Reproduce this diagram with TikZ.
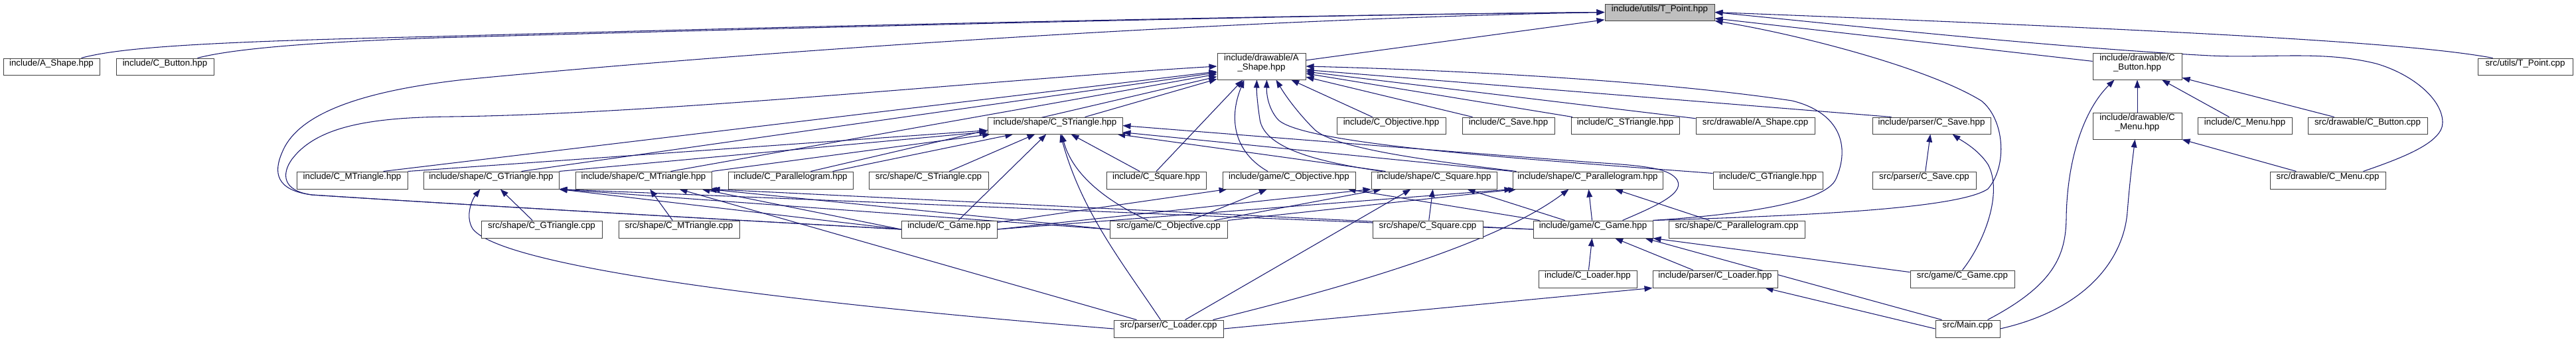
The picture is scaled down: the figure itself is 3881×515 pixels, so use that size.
\documentclass[tikz,border=0pt]{standalone}
\usepackage{fontspec}
\setmainfont{Liberation Sans}
\usetikzlibrary{fit,arrows.meta}
\definecolor{midnight}{HTML}{191970}
\definecolor{tpgray}{HTML}{BFBFBF}
\pgfdeclarelayer{bg}
\pgfsetlayers{bg,main}
\newcommand\dnode[7][]{\node[box,#1, fit={(#3,#4) (#5,#6)}] (#2) {#7};}
\begin{document}
\begin{tikzpicture}[x=0.75bp,y=-0.75bp,
  box/.style={draw=black!75, line width=0.75bp, fill=white, inner sep=0pt, align=center,
    font=\fontsize{10bp}{10.5bp}\selectfont},
  dep/.style={draw=midnight, line width=0.8bp, -{Triangle[length=9bp,width=6.5bp]}}]
\useasboundingbox (0,0) rectangle (3881,515);
% row 0/1
\dnode[fill=tpgray]{TP}{2418}{6}{2583}{31}{include/utils/T\_Point.hpp}
\dnode{AS}{5}{88}{150}{113}{include/A\_Shape.hpp}
\dnode{CB}{175}{88}{322}{113}{include/C\_Button.hpp}
\dnode{DAS}{1834}{80}{1967}{120}{include/drawable/A\\\_Shape.hpp}
\dnode{DCB}{3153}{80}{3287}{120}{include/drawable/C\\\_Button.hpp}
\dnode{TPC}{3733}{88}{3876}{113}{src/utils/T\_Point.cpp}
% row 2
\dnode{SST}{1488}{177}{1691}{202}{include/shape/C\_STriangle.hpp}
\dnode{COH}{2014}{177}{2178}{202}{include/C\_Objective.hpp}
\dnode{CSH}{2203}{177}{2342}{202}{include/C\_Save.hpp}
\dnode{CSTH}{2367}{177}{2530}{202}{include/C\_STriangle.hpp}
\dnode{DASC}{2555}{177}{2734}{202}{src/drawable/A\_Shape.cpp}
\dnode{PSH}{2821}{177}{2999}{202}{include/parser/C\_Save.hpp}
\dnode{DCM}{3153}{170}{3287}{210}{include/drawable/C\\\_Menu.hpp}
\dnode{CMH}{3311}{177}{3453}{202}{include/C\_Menu.hpp}
\dnode{DCBC}{3477}{177}{3657}{202}{src/drawable/C\_Button.cpp}
% row 3
\dnode{CMT}{447}{259}{614}{285}{include/C\_MTriangle.hpp}
\dnode{SGT}{638}{259}{842}{285}{include/shape/C\_GTriangle.hpp}
\dnode{SMT}{867}{259}{1072}{285}{include/shape/C\_MTriangle.hpp}
\dnode{CPH}{1097}{259}{1285}{285}{include/C\_Parallelogram.hpp}
\dnode{SSTC}{1309}{259}{1489}{285}{src/shape/C\_STriangle.cpp}
\dnode{CSQ}{1667}{259}{1817}{285}{include/C\_Square.hpp}
\dnode{GOH}{1842}{259}{2042}{285}{include/game/C\_Objective.hpp}
\dnode{SSQ}{2066}{259}{2255}{285}{include/shape/C\_Square.hpp}
\dnode{SPA}{2279}{259}{2505}{285}{include/shape/C\_Parallelogram.hpp}
\dnode{CGT}{2581}{259}{2746}{285}{include/C\_GTriangle.hpp}
\dnode{PSC}{2821}{259}{2977}{285}{src/parser/C\_Save.cpp}
\dnode{DCMC}{3420}{259}{3594}{285}{src/drawable/C\_Menu.cpp}
% row 4
\dnode{SGTC}{725}{333}{907}{359}{src/shape/C\_GTriangle.cpp}
\dnode{SMTC}{932}{333}{1114}{359}{src/shape/C\_MTriangle.cpp}
\dnode{CGH}{1358}{333}{1502}{359}{include/C\_Game.hpp}
\dnode{GOC}{1672}{333}{1849}{359}{src/game/C\_Objective.cpp}
\dnode{SSQC}{2068}{333}{2234}{359}{src/shape/C\_Square.cpp}
\dnode{GGH}{2310}{333}{2490}{359}{include/game/C\_Game.hpp}
\dnode{SPAC}{2514}{333}{2719}{359}{src/shape/C\_Parallelogram.cpp}
% row 5
\dnode{CLH}{2318}{408}{2466}{434}{include/C\_Loader.hpp}
\dnode{PLH}{2490}{408}{2678}{434}{include/parser/C\_Loader.hpp}
\dnode{GGC}{2878}{408}{3035}{434}{src/game/C\_Game.cpp}
% row 6
\dnode{PLC}{1678}{483}{1843}{509}{src/parser/C\_Loader.cpp}
\dnode{MAIN}{2916}{483}{3013}{509}{src/Main.cpp}

\begin{pgfonlayer}{bg}
% to T_Point.hpp
\draw[dep] ([shift={(-28,0)}]AS.north east) .. controls (180,72) and (300,63) .. (660,55) .. controls (1300,37) and (2000,22) .. (TP.west);
\draw[dep] ([shift={(-25,0)}]CB.north east) .. controls (350,74) and (460,64) .. (660,57) .. controls (1300,39) and (2000,22) .. (TP.west);
\draw[dep] (CGH.west) .. controls (1000,326) and (700,309) .. (470,294) .. controls (415,287) and (412,260) .. (425,230) .. controls (445,180) and (520,140) .. (700,120) .. controls (1200,72) and (1900,28) .. (TP.west);
\draw[dep] (DAS) -- (TP);
\draw[dep] (DCB) -- (TP);
\draw[dep] ([shift={(23,0)}]TPC.north west) .. controls (3650,68) and (3400,50) .. (TP.east);
\draw[dep] ([shift={(-34,0)}]DCMC.north east) .. controls (3620,238) and (3680,215) .. (3680,185) .. controls (3680,150) and (3635,112) .. (3580,96) .. controls (3500,76) and (3420,88) .. (3330,84) .. controls (3100,72) and (2800,40) .. (TP.east);
\draw[dep] (GGH.north east) .. controls (2700,326) and (2950,316) .. (2995,285) .. controls (3025,250) and (3020,180) .. (2985,152) .. controls (2900,100) and (2700,50) .. (TP.south east);
% to drawable/A_Shape.hpp
\draw[dep] (CGH.west) .. controls (1000,326) and (700,309) .. (470,294) .. controls (425,288) and (424,262) .. (440,240) .. controls (478,190) and (560,177) .. (680,176) .. controls (1000,172) and (1500,120) .. (DAS.west);
\draw[dep] ([shift={(-37,0)}]CMT.north east) -- (DAS);
\draw[dep] ([shift={(-57,0)}]SGT.north east) -- (DAS);
\draw[dep] ([shift={(-62,0)}]SMT.north east) -- (DAS);
\draw[dep] ([shift={(-64,0)}]CPH.north east) -- (DAS);
\draw[dep] (SST) -- (DAS);
\draw[dep] (CSQ.north) -- ([shift={(-28,0)}]DAS.south);
\draw[dep] ([shift={(-32,0)}]GOH.north) .. controls (1860,230) and (1850,180) .. ([shift={(-26,0)}]DAS.south);
\draw[dep] ([shift={(17,0)}]SSQ.north west) .. controls (1990,245) and (1905,225) .. (1898,180) .. controls (1895,160) and (1893,140) .. ([shift={(-7,0)}]DAS.south);
\draw[dep] ([shift={(0,3)}]CGT.north west) .. controls (2300,240) and (1960,218) .. (1925,180) .. controls (1912,165) and (1908,145) .. ([shift={(8,0)}]DAS.south);
\draw[dep] ([shift={(6,0)}]SPA.north west) .. controls (2150,242) and (2010,224) .. (1980,195) .. controls (1960,175) and (1940,150) .. ([shift={(22,0)}]DAS.south);
\draw[dep] (GGH.north east) .. controls (2650,322) and (2752,302) .. (2766,270) .. controls (2788,220) and (2772,170) .. (2700,152) .. controls (2500,122) and (2200,106) .. (DAS.east);
\draw[dep] (COH) -- (DAS);
\draw[dep] (CSH) -- (DAS);
\draw[dep] (CSTH) -- (DAS);
\draw[dep] (DASC) -- (DAS);
\draw[dep] ([shift={(29,0)}]PSH.north west) -- (DAS);
% to shape/C_STriangle.hpp
\draw[dep] (CMT.north east) -- (SST);
\draw[dep] (SGT.north east) -- (SST);
\draw[dep] (SMT.north east) -- (SST);
\draw[dep] ([shift={(-31,0)}]CPH.north east) -- (SST);
\draw[dep] (SSTC) -- (SST);
\draw[dep] (CGH) -- (SST);
\draw[dep] ([shift={(58,0)}]GOC.north west) .. controls (1660,300) and (1615,260) .. ([shift={(10,0)}]SST.south);
\draw[dep] ([shift={(71,0)}]PLC.north west) .. controls (1690,395) and (1630,320) .. ([shift={(8,0)}]SST.south);
\draw[dep] (CSQ) -- (SST);
\draw[dep] ([shift={(-46,0)}]GGH.north east) .. controls (2492,312) and (2545,290) .. (2524,268) .. controls (2510,254) and (2480,250) .. (2400,245) .. controls (2100,222) and (1850,202) .. (SST.east);
\draw[dep] ([shift={(22,0)}]SSQ.north west) -- (SST);
\draw[dep] (SPA.north west) -- (SST);
% to game/C_Objective.hpp
\draw[dep] (CGH) -- (GOH);
\draw[dep] (GOC) -- (GOH);
\draw[dep] ([shift={(10,0)}]GGH.north west) -- ([shift={(-12,0)}]GOH.south east);
% to shape/C_Square.hpp
\draw[dep] (CGH.east) -- (SSQ.south west);
\draw[dep] ([shift={(-20,0)}]GOC.north east) -- ([shift={(16,0)}]SSQ.south west);
\draw[dep] ([shift={(-58,0)}]PLC.north east) -- ([shift={(60,0)}]SSQ.south west);
\draw[dep] (SSQC) -- (SSQ);
\draw[dep] (GGH) -- ([shift={(-45,0)}]SSQ.south east);
% to shape/C_Parallelogram.hpp
\draw[dep] (CGH.east) -- (SPA.south west);
\draw[dep] (GOC.north east) -- ([shift={(6,0)}]SPA.south west);
\draw[dep] ([shift={(-16,0)}]PLC.north east) .. controls (2000,440) and (2250,372) .. ([shift={(85,0)}]SPA.south west);
\draw[dep] (GGH) -- (SPA);
\draw[dep] (SPAC) -- (SPA);
% to shape/C_GTriangle.hpp
\draw[dep] (SGTC) -- (SGT);
\draw[dep] (PLC.west) .. controls (1300,466) and (760,410) .. (712,345) .. controls (700,325) and (712,300) .. ([shift={(86,0)}]SGT.south west);
\draw[dep] (CGH.west) -- (SGT.south east);
\draw[dep] (GOC.west) -- (SGT.south east);
\draw[dep] (GGH.west) -- (SGT.south east);
% to shape/C_MTriangle.hpp
\draw[dep] (SMTC) -- (SMT);
\draw[dep] ([shift={(35,0)}]PLC.north west) -- ([shift={(-49,0)}]SMT.south east);
\draw[dep] (CGH.west) -- ([shift={(-15,0)}]SMT.south east);
\draw[dep] (GOC.west) -- ([shift={(-5,0)}]SMT.south east);
\draw[dep] (GGH.west) -- (SMT.south east);
% to game/C_Game.hpp
\draw[dep] (CLH) -- (GGH);
\draw[dep] (PLH) -- (GGH);
\draw[dep] (GGC) -- (GGH.south east);
\draw[dep] ([shift={(10,0)}]MAIN.north west) -- ([shift={(-12,0)}]GGH.south east);
% to parser/C_Loader.hpp
\draw[dep] (PLC.east) -- (PLH.south west);
\draw[dep] (MAIN.west) -- ([shift={(-19,0)}]PLH.south east);
% to parser/C_Save.hpp
\draw[dep] (PSC) -- (PSH);
\draw[dep] (GGC.north) .. controls (2990,365) and (3018,290) .. (2995,248) .. controls (2980,225) and (2955,212) .. ([shift={(-58,0)}]PSH.south east);
% to drawable/C_Button.hpp
\draw[dep] (DCM) -- (DCB);
\draw[dep] (CMH) -- (DCB);
\draw[dep] (DCBC) -- (DCB);
\draw[dep] ([shift={(-19,0)}]MAIN.north east) .. controls (3095,430) and (3112,385) .. (3113,330) .. controls (3114,240) and (3140,165) .. ([shift={(33,0)}]DCB.south west);
% to drawable/C_Menu.hpp
\draw[dep] ([shift={(40,0)}]DCMC.north west) -- (DCM.south east);
\draw[dep] (MAIN.east) .. controls (3150,465) and (3200,385) .. (3205,320) .. controls (3209,270) and (3213,240) .. ([shift={(64,0)}]DCM.south west);
\end{pgfonlayer}
\end{tikzpicture}
\end{document}
